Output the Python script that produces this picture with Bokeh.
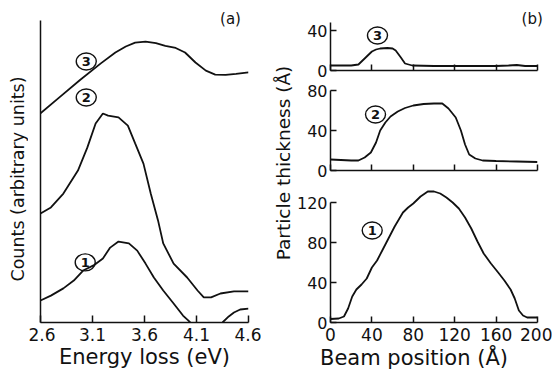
import math
from bokeh.plotting import figure
from bokeh.layouts import row, column
from bokeh.models import Range1d, FixedTicker, Label, Title, CustomJSTickFormatter
from bokeh.embed import file_html
from bokeh.resources import INLINE
from bokeh.core.properties import value

FONT = "DejaVu Sans"
INK = "#111111"

# ---------------- data: panel (a), energy-loss spectra ----------------
e_ticks = [2.6, 3.1, 3.6, 4.1, 4.6]

spec3_e = [2.6, 2.79, 2.98, 3.18, 3.32, 3.42, 3.51, 3.61, 3.71, 3.80, 3.90, 3.99, 4.09, 4.19, 4.28, 4.38, 4.48, 4.60]
spec3_c = [69.3, 74.8, 80.3, 85.8, 89.4, 91.4, 92.7, 93.0, 92.5, 91.6, 90.9, 89.4, 86.1, 83.4, 82.1, 82.0, 82.3, 82.8]

spec2_e = [2.6, 2.70, 2.82, 2.96, 3.05, 3.13, 3.20, 3.25, 3.35, 3.44, 3.51, 3.59, 3.66, 3.73, 3.78, 3.88, 4.01, 4.11, 4.17, 4.24, 4.33, 4.46, 4.60]
spec2_c = [36.1, 38.1, 42.7, 50.3, 57.9, 65.9, 69.2, 68.5, 67.9, 65.2, 59.3, 52.6, 42.7, 33.8, 26.2, 19.5, 14.9, 10.6, 8.3, 8.3, 9.6, 10.3, 10.3]

spec1_e = [2.6, 2.70, 2.82, 2.92, 3.01, 3.11, 3.20, 3.27, 3.35, 3.45, 3.53, 3.61, 3.69, 3.78, 3.88, 3.97, 4.02, 4.04]
spec1_c = [7.3, 8.9, 11.3, 13.9, 17.2, 18.9, 21.2, 24.8, 26.8, 26.2, 23.8, 19.5, 14.9, 10.6, 6.3, 2.3, 0.7, 0.0]
spec1_tail_e = [4.35, 4.41, 4.46, 4.52, 4.60]
spec1_tail_c = [0.0, 2.0, 3.3, 4.3, 4.6]

a_tags = ["1", "2", "3"]
a_tag_e = [3.03, 3.04, 3.04]
a_tag_c = [19.9, 74.5, 86.4]

# ---------------- data: panel (b), thickness profiles ----------------
beam_ticks = [0, 40, 80, 120, 160, 200]

beam3 = [0, 10, 20, 27, 34, 40, 44, 48, 55, 60, 63, 68, 72, 79, 100, 120, 140, 160, 172, 180, 188, 200]
thick3 = [5, 5, 5, 6, 13, 19, 21, 22, 22.5, 22, 20, 13, 7, 5, 4.5, 4.5, 4.5, 4.5, 5, 5.5, 4.5, 4.5]

beam2 = [0, 10, 20, 27, 33, 39, 44, 48, 53, 58, 65, 72, 80, 90, 100, 108, 114, 121, 126, 130, 134, 140, 147, 160, 180, 200]
thick2 = [11, 10.5, 10, 10, 13, 18, 28, 40, 48, 54, 59, 62.5, 65, 66.5, 67, 67, 62, 53, 40, 26, 16, 12, 10, 9.5, 9, 8.5]

beam1 = [0, 8, 13, 17, 21, 25, 30, 35, 40, 45, 50, 55, 62, 70, 75, 80, 87, 94, 100, 106, 112, 118, 124, 130, 136, 142, 148, 155, 162, 168, 174, 178, 182, 186, 190, 200]
thick1 = [3.5, 4, 6, 14, 26, 33, 38, 44, 55, 62, 72, 82, 96, 110, 115, 119, 126, 131, 131, 129, 125, 120, 114, 105, 94, 81, 69, 59, 50, 42, 33, 24, 12, 7, 5, 5]

b_tag_x = [40.3, 43.5, 45.4]
b_tag_y = [92, 56, 35]

TOP_B = 10    # border above the frames
FRAME_B = 322  # page y of the x axes
BOT_B = 50    # border below the x axes
PX_PER_BEAM = 207 / 200


def clean(p):
    p.outline_line_color = None
    p.xgrid.visible = False
    p.ygrid.visible = False
    p.background_fill_color = "white"
    p.border_fill_color = "white"


def style_axis(ax, ticks, tick_len, labels=True, size="16px", standoff=6):
    ax.ticker = FixedTicker(ticks=ticks)
    ax.major_tick_in = tick_len
    ax.major_tick_out = 0
    ax.minor_tick_in = 0
    ax.minor_tick_out = 0
    ax.axis_line_color = INK
    ax.axis_line_width = 1.5
    ax.major_tick_line_color = INK
    ax.major_tick_line_width = 1.5
    ax.major_label_text_font = FONT
    ax.major_label_text_font_size = size
    ax.major_label_text_color = INK
    ax.major_label_standoff = standoff
    if not labels:
        ax.formatter = CustomJSTickFormatter(code="return ''")
        ax.major_label_standoff = 0


def tags(p, xs, ys, txt):
    p.ellipse(x=xs, y=ys, width=20, height=17, width_units="screen", height_units="screen",
              fill_color=None, line_color=INK, line_width=1.4)
    p.text(x=xs, y=ys, text=txt, text_align=value("center"), text_baseline=value("middle"),
           text_font=value(FONT), text_font_size=value("13px"), text_font_style=value("bold"),
           text_color=INK)


def strip(x0, x1):
    # a blank, axis-free figure whose data coordinates equal page pixels
    s = figure(frame_width=x1 - x0, frame_height=FRAME_B - TOP_B,
               min_border_left=0, min_border_right=0,
               min_border_top=TOP_B, min_border_bottom=BOT_B,
               x_range=Range1d(x0, x1), y_range=Range1d(FRAME_B, TOP_B),
               x_axis_type=None, y_axis_type=None,
               output_backend="svg", toolbar_location=None)
    clean(s)
    return s


LW = 1.8

# ---------------- left title strip ----------------
clab = strip(0, 28)
clab.add_layout(Label(x=17, y=178.5, text="Counts (arbitrary units)", angle=math.pi / 2,
                      text_align="center", text_baseline="middle", text_font=FONT,
                      text_font_size="17.5px", text_color=INK))

# ---------------- panel (a) ----------------
pa = figure(frame_width=208, frame_height=FRAME_B - TOP_B, min_border_left=12, min_border_right=13,
            min_border_top=TOP_B, min_border_bottom=BOT_B,
            x_range=Range1d(2.6, 4.6), y_range=Range1d(0, 100 * 312 / 302),
            output_backend="svg", toolbar_location=None)
clean(pa)
style_axis(pa.xaxis[0], e_ticks, 7, size="17px", standoff=5)
pa.xaxis.axis_label = "Energy loss (eV)"
pa.xaxis.axis_label_text_font = FONT
pa.xaxis.axis_label_text_font_size = "21px"
pa.xaxis.axis_label_text_font_style = "normal"
pa.xaxis.axis_label_text_color = INK
pa.xaxis.axis_label_standoff = 1
style_axis(pa.yaxis[0], [], 0, labels=False)
pa.yaxis.bounds = (0, 100)

pa.line(spec3_e, spec3_c, line_color=INK, line_width=LW)
pa.line(spec2_e, spec2_c, line_color=INK, line_width=LW)
pa.line(spec1_e, spec1_c, line_color=INK, line_width=LW)
pa.line(spec1_tail_e, spec1_tail_c, line_color=INK, line_width=LW)
tags(pa, a_tag_e, a_tag_c, a_tags)
pa.add_layout(Label(x=4.427, y=100.6, text="(a)", text_align="center", text_baseline="middle",
                    text_font=FONT, text_font_size="15px", text_color=INK))

# ---------------- middle title strip (panel b y title) ----------------
plab = strip(261, 293)
plab.add_layout(Label(x=282.5, y=162.5, text="Particle thickness (Å)", angle=math.pi / 2,
                      text_align="center", text_baseline="middle", text_font=FONT,
                      text_font_size="18.5px", text_color=INK))


def panel_b(top_b, frame_h, bot_b, ymax, yticks, ybound, xlabels, frame_w=207, right_b=15):
    p = figure(frame_width=frame_w, frame_height=frame_h, min_border_left=37, min_border_right=right_b,
               min_border_top=top_b, min_border_bottom=bot_b,
               x_range=Range1d(0, frame_w / PX_PER_BEAM), y_range=Range1d(0, ymax),
               output_backend="svg", toolbar_location=None)
    clean(p)
    style_axis(p.xaxis[0], beam_ticks, 6, labels=xlabels, size="17px", standoff=5)
    p.xaxis.bounds = (0, 200)
    style_axis(p.yaxis[0], yticks, 6, size="16px", standoff=3)
    p.yaxis.bounds = (0, ybound)
    return p


# top panel frame runs to the page edge so the "(b)" tag fits inside it
pb3 = panel_b(TOP_B, 60, 10, 60, [0, 40], 48, False, frame_w=222, right_b=0)
pb3.line(beam3, thick3, line_color=INK, line_width=LW)
tags(pb3, [b_tag_x[2]], [b_tag_y[2]], ["3"])
pb3.add_layout(Label(x=194.9, y=51.7, text="(b)", text_align="center", text_baseline="middle",
                     text_font=FONT, text_font_size="15px", text_color=INK))

pb2 = panel_b(10, 80, 16, 80, [0, 40, 80], 80, False)
pb2.line(beam2, thick2, line_color=INK, line_width=LW)
tags(pb2, [b_tag_x[1]], [b_tag_y[1]], ["2"])

pb1 = panel_b(0, 136, BOT_B, 136, [0, 40, 80, 120], 120, True)
pb1.line(beam1, thick1, line_color=INK, line_width=LW)
tags(pb1, [b_tag_x[0]], [b_tag_y[0]], ["1"])
pb1.add_layout(Title(text="Beam position (Å)", align="left", offset=-10.5, standoff=0,
                     text_font=FONT, text_font_size="21px", text_font_style="normal",
                     text_color=INK), "below")

layout = row(clab, pa, plab, column(pb3, pb2, pb1, spacing=0), spacing=0)

open("out.html", "w").write(file_html(layout, INLINE))
